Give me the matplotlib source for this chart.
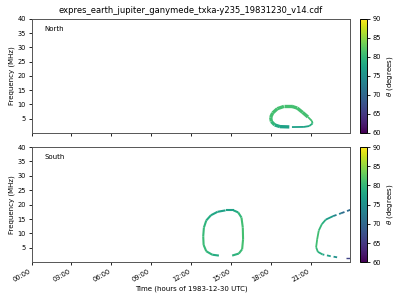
import numpy as np
import matplotlib
matplotlib.use("Agg")
import matplotlib.pyplot as plt
from matplotlib.collections import LineCollection
from matplotlib.colors import Normalize
from matplotlib.cm import ScalarMappable

TITLE = "expres_earth_jupiter_ganymede_txka-y235_19831230_v14.cdf"
HEMIS = ["North", "South"]
XTICKS = [0, 3, 6, 9, 12, 15, 18, 21]
XTICKLABELS = ["00:00", "03:00", "06:00", "09:00", "12:00", "15:00", "18:00", "21:00"]
YTICKS = [5, 10, 15, 20, 25, 30, 35, 40]
CTICKS = [60, 65, 70, 75, 80, 85, 90]

# North emission loop (time in hours, frequency MHz, theta degrees)
north_t = [19.4, 18.7, 18.3, 18.05, 18.0, 18.15, 18.5, 19.0, 19.6, 20.0, 20.4, 20.8, 21.1, 21.15, 20.9, 20.5, 19.6]
north_f = [2.1, 2.2, 2.8, 4.0, 5.5, 7.0, 8.5, 9.3, 9.3, 8.7, 7.2, 5.6, 4.2, 3.3, 2.4, 2.1, 2.05]
north_th = [77, 77.5, 79, 80.5, 81, 81, 81, 81, 81, 81, 81, 81, 81, 80, 78, 77, 77]

# South emission loop 1
s1_t = [14.1, 13.6, 13.15, 12.95, 12.92, 12.97, 13.15, 13.5, 14.0, 14.6, 15.2, 15.55, 15.8, 15.9, 15.92, 15.85, 15.6, 15.1]
s1_f = [2.3, 2.6, 3.8, 6.0, 9.0, 12.0, 14.5, 16.3, 17.5, 18.0, 18.0, 17.3, 15.5, 12.0, 8.0, 4.5, 3.0, 2.3]
s1_th = [78, 79, 80, 80.5, 80.5, 80, 79, 78, 77.5, 77, 77.5, 79, 80.5, 81, 81, 81, 80, 78.5]

# South emission arc 2 (bottom branch -> top branch)
s2_t = [23.0, 22.5, 21.9, 21.55, 21.42, 21.5, 21.62, 21.85, 22.15, 22.7, 23.3, 24.0]
s2_f = [1.7, 2.1, 2.7, 3.6, 5.2, 8.0, 11.0, 13.2, 14.8, 16.0, 17.0, 18.2]
s2_th = [74, 76, 78, 79.5, 80.5, 81, 80.5, 79.5, 78, 75, 72, 69]

# South short low-frequency segment
s3_t = [23.7, 24.0]
s3_f = [1.45, 1.45]
s3_th = [66, 66]

norm = Normalize(60, 90)
cmap = plt.get_cmap("viridis")


def add_curve(ax, t, f, th, lw, dashed_from=None, dashed_to=None):
    pts = np.column_stack([t, f])
    segs = [pts[i:i + 2] for i in range(len(pts) - 1)]
    vals = [(th[i] + th[i + 1]) / 2 for i in range(len(th) - 1)]
    styles = []
    for i in range(len(segs)):
        if dashed_from is not None and i >= dashed_from:
            styles.append((0, (2.0, 1.5)))
        elif dashed_to is not None and i < dashed_to:
            styles.append((0, (2.0, 1.5)))
        else:
            styles.append("solid")
    lc = LineCollection(segs, cmap=cmap, norm=norm, linewidths=lw, linestyles=styles,
                        capstyle="butt")
    lc.set_array(np.array(vals))
    ax.add_collection(lc)


fig = plt.figure(figsize=(4, 3), dpi=100)
ax1 = fig.add_axes([0.079, 0.557, 0.797, 0.38])
ax2 = fig.add_axes([0.079, 0.126, 0.797, 0.384])
cax1 = fig.add_axes([0.900, 0.557, 0.018, 0.38])
cax2 = fig.add_axes([0.900, 0.126, 0.018, 0.384])

add_curve(ax1, north_t[:12], north_f[:12], north_th[:12], 2.4)
add_curve(ax1, north_t[11:], north_f[11:], north_th[11:], 1.3)
add_curve(ax2, s1_t, s1_f, s1_th, 1.5)
add_curve(ax2, s2_t, s2_f, s2_th, 1.3, dashed_from=9, dashed_to=2)
add_curve(ax2, s3_t, s3_f, s3_th, 1.0)

for ax, name in zip([ax1, ax2], HEMIS):
    ax.set_xlim(0, 24)
    ax.set_ylim(0, 40)
    ax.set_yticks(YTICKS)
    ax.set_xticks(XTICKS)
    ax.tick_params(labelsize=4.8, length=2.5, width=0.6, pad=1.5)
    ax.set_ylabel("Frequency (MHz)", fontsize=5, labelpad=2)
    ax.text(0.04, 0.91, name, transform=ax.transAxes, fontsize=5, va="center", ha="left")
    for s in ax.spines.values():
        s.set_linewidth(0.7)
        s.set_color("#555555")

ax1.set_xticklabels([])
ax2.set_xticklabels(XTICKLABELS, rotation=30, ha="right")
ax2.set_xlabel("Time (hours of 1983-12-30 UTC)", fontsize=5, labelpad=2)
ax1.set_title(TITLE, fontsize=6.0, pad=4)

for cax in [cax1, cax2]:
    sm = ScalarMappable(norm=norm, cmap=cmap)
    cb = fig.colorbar(sm, cax=cax)
    cb.set_ticks(CTICKS)
    cb.ax.tick_params(labelsize=4.8, length=2.5, width=0.6, pad=1.5)
    cb.set_label(r"$\theta$ (degrees)", fontsize=5, labelpad=3)
    cb.outline.set_linewidth(0.7)

fig.savefig("out.png", dpi=100)
